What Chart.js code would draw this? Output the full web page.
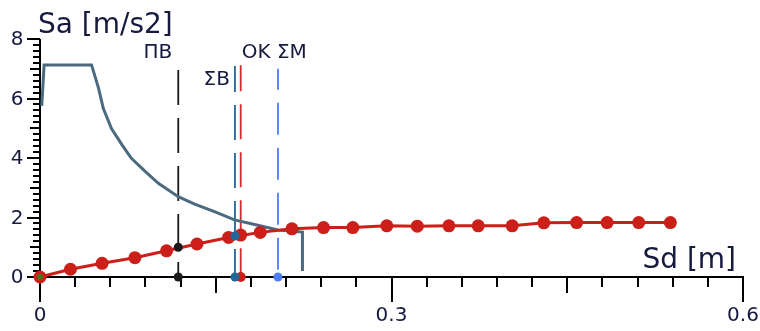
<!DOCTYPE html>
<html>
<head>
<meta charset="utf-8">
<script src="https://cdn.jsdelivr.net/npm/chart.js@4.4.0/dist/chart.umd.min.js"></script>
<style>
  html, body { margin: 0; padding: 0; background: #fff; }
</style>
</head>
<body>
<canvas id="chart" width="760" height="331"></canvas>
<script>
// capacity curve (Sd [m], Sa [m/s2])
var capSd = [0, 0.026, 0.053, 0.081, 0.108, 0.134, 0.161, 0.188, 0.215, 0.242, 0.267,
             0.296, 0.322, 0.349, 0.374, 0.403, 0.430, 0.458, 0.484, 0.511, 0.538];
var capSa = [0, 0.26, 0.46, 0.65, 0.88, 1.11, 1.33, 1.50, 1.62, 1.66, 1.66,
             1.72, 1.71, 1.72, 1.72, 1.72, 1.82, 1.83, 1.83, 1.83, 1.83];

// demand spectrum
var specSd = [0.0015, 0.0035, 0.044, 0.050, 0.054, 0.061, 0.070, 0.078, 0.090, 0.101,
              0.118, 0.132, 0.150, 0.166, 0.185, 0.203, 0.224, 0.224];
var specSa = [5.75, 7.13, 7.13, 6.34, 5.67, 4.99, 4.44, 3.99, 3.54, 3.15,
              2.70, 2.45, 2.18, 1.92, 1.75, 1.58, 1.51, 0.20];

// marker lines: name, Sd, top of line, Sa of point on the curve (null = none)
var markNames = ["ПВ", "ΣВ", "OK", "ΣМ"];
var markSd    = [0.118, 0.1664, 0.1713, 0.2031];
var markTop   = [6.96, 7.09, 7.12, 7.00];
var markSa    = [1.0, 1.38, 1.41, null];

// axis ticks
var xTickLabels = [0, 0.3, 0.6];
var yTickLabels = [0, 2, 4, 6, 8];

var markColors = ["#1a1a1a", "#21679a", "#d42a2a", "#4f7df5"];
var markDash = [[35, 13], [35, 13], [35, 13], [32, 13]];
var markDashOffset = [0, 9, 9, 11];
var textColor = "#161a3e";
var font = "'DejaVu Sans', sans-serif";

function pts(xs, ys) {
  return xs.map(function (x, i) { return { x: x, y: ys[i] }; });
}

var datasets = [];

// dots (top layer)
markSd.forEach(function (sd, i) {
  var d = [{ x: sd, y: 0 }];
  if (markSa[i] !== null) d.push({ x: sd, y: markSa[i] });
  var r = i == 2 ? [5, 6.5] : [4.5, 4.5];
  datasets.push({
    data: d,
    showLine: false,
    pointRadius: r,
    pointBackgroundColor: i == 2 ? "#cc1f1a" : markColors[i],
    pointBorderWidth: 0,
    order: 0
  });
});
// green dot at origin
datasets.push({
  data: [{ x: 0, y: 0 }],
  showLine: false,
  pointRadius: 3,
  pointBackgroundColor: "#3f7a1c",
  pointBorderWidth: 0,
  order: -1
});

// capacity curve
datasets.push({
  data: pts(capSd, capSa),
  showLine: true,
  borderColor: "#cc1f1a",
  borderWidth: 3,
  pointRadius: 6.5,
  pointBackgroundColor: "#cc1f1a",
  pointBorderWidth: 0,
  order: 1
});

// demand spectrum
datasets.push({
  data: pts(specSd, specSa),
  showLine: true,
  borderColor: "#4b6a80",
  borderWidth: 3,
  pointRadius: 0,
  order: 2
});

// vertical marker lines
markSd.forEach(function (sd, i) {
  datasets.push({
    data: [{ x: sd, y: markTop[i] }, { x: sd, y: 0 }],
    showLine: true,
    borderColor: markColors[i],
    borderWidth: 1.8,
    borderDash: markDash[i],
    borderDashOffset: markDashOffset[i],
    pointRadius: 0,
    order: 3
  });
});

var axesPlugin = {
  id: "axes",
  beforeDatasetsDraw: function (chart) {
    var ctx = chart.ctx, xs = chart.scales.x, ys = chart.scales.y;
    var x0 = Math.round(xs.getPixelForValue(0));
    var y0 = Math.round(ys.getPixelForValue(0));
    ctx.save();
    ctx.strokeStyle = "#000";
    ctx.lineWidth = 2;
    ctx.beginPath();
    // y axis
    ctx.moveTo(x0, Math.round(ys.getPixelForValue(8)));
    ctx.lineTo(x0, y0 + 25);
    // x axis
    ctx.moveTo(x0 - 7, y0);
    ctx.lineTo(Math.round(xs.getPixelForValue(0.6)) + 1, y0);
    // y ticks every 0.2
    for (var i = 0; i <= 40; i++) {
      var py = Math.round(ys.getPixelForValue(i * 0.2));
      var len = i % 10 == 0 ? 13 : (i % 5 == 0 ? 10 : 7);
      ctx.moveTo(x0 - len, py);
      ctx.lineTo(x0, py);
    }
    // x ticks every 0.03
    for (var j = 1; j <= 20; j++) {
      var px = Math.round(xs.getPixelForValue(j * 0.03));
      var l2 = j % 10 == 0 ? 25 : (j % 5 == 0 ? 16 : 10);
      ctx.moveTo(px, y0);
      ctx.lineTo(px, y0 + l2);
    }
    ctx.stroke();

    ctx.fillStyle = textColor;
    ctx.font = "20px " + font;
    ctx.textBaseline = "middle";
    ctx.textAlign = "center";
    yTickLabels.forEach(function (v) {
      ctx.fillText(String(v), 17, ys.getPixelForValue(v) + 1);
    });
    xTickLabels.forEach(function (v) {
      ctx.fillText(String(v), xs.getPixelForValue(v), 316);
    });

    ctx.font = "28px " + font;
    ctx.textAlign = "left";
    ctx.textBaseline = "alphabetic";
    ctx.fillText("Sa [m/s2]", 38, 33);
    ctx.textAlign = "right";
    ctx.fillText("Sd [m]", 736, 268);
    ctx.restore();
  },
  afterDatasetsDraw: function (chart) {
    var ctx = chart.ctx, xs = chart.scales.x;
    // label placement: [align, dx, y]
    var place = [["right", -6, 53], ["right", -5, 80], ["left", 1, 53], ["left", -1, 53]];
    ctx.save();
    ctx.fillStyle = textColor;
    ctx.font = "20px " + font;
    ctx.textBaseline = "middle";
    markNames.forEach(function (name, i) {
      ctx.textAlign = place[i][0];
      ctx.fillText(name, xs.getPixelForValue(markSd[i]) + place[i][1], place[i][2]);
    });
    ctx.restore();
  }
};

new Chart(document.getElementById("chart").getContext("2d"), {
  type: "scatter",
  data: { datasets: datasets },
  options: {
    responsive: false,
    animation: false,
    devicePixelRatio: 1,
    layout: { padding: { left: 40, right: 17, top: 39, bottom: 54 } },
    elements: { line: { tension: 0 } },
    datasets: { scatter: { clip: false } },
    scales: {
      x: { type: "linear", min: 0, max: 0.6, display: false },
      y: { type: "linear", min: 0, max: 8, display: false }
    },
    plugins: { legend: { display: false }, tooltip: { enabled: false } }
  },
  plugins: [axesPlugin]
});
</script>
</body>
</html>
